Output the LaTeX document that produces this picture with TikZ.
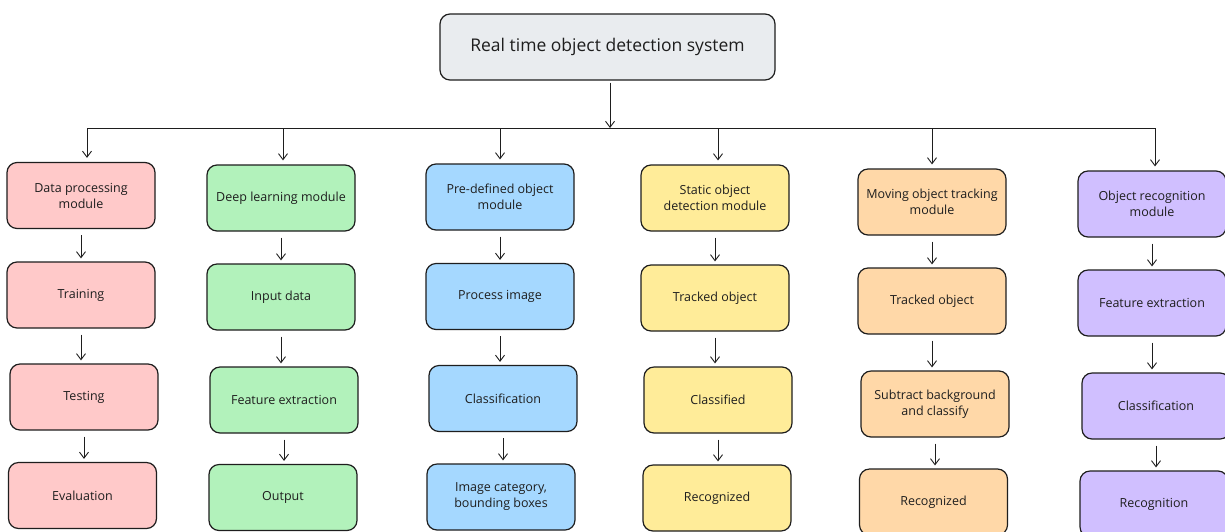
\documentclass[tikz,border=0pt]{standalone}
\usepackage{fontspec}
\setmainfont{Open Sans}
\usetikzlibrary{arrows.meta}
\definecolor{ink}{HTML}{1E1E1E}
\definecolor{rootfill}{HTML}{E9ECEF}
\definecolor{pinkfill}{HTML}{FFC9C9}
\definecolor{greenfill}{HTML}{B2F2BB}
\definecolor{bluefill}{HTML}{A5D8FF}
\definecolor{yellowfill}{HTML}{FFEC99}
\definecolor{orangefill}{HTML}{FFD8A8}
\definecolor{violetfill}{HTML}{D0BFFF}
\begin{document}
\begin{tikzpicture}[x=1pt,y=-1pt,
  box/.style={draw=ink, line width=1.2pt, rounded corners=10pt,
    minimum width=148pt, minimum height=66pt, align=center, text=ink,
    inner sep=2pt, font=\fontsize{12.5}{16}\selectfont},
  arr/.style={draw=ink, line width=0.9pt,
    -{Straight Barb[length=6pt,width=9pt]}, shorten >=3pt, shorten <=6pt},
  busarr/.style={arr, shorten <=0pt, shorten >=4pt},
  bus/.style={draw=ink, line width=0.9pt}
]
\useasboundingbox (0,0) rectangle (1225,531);
\clip (0,0) rectangle (1225,531);
\fill[white] (0,0) rectangle (1225,531);

% root
\node[box, fill=rootfill, minimum width=335pt, font=\fontsize{17.5}{20}\selectfont]
  (root) at (607.5,47) {Real time object detection system};

% column 1
\node[box, fill=pinkfill] (m11) at (81,195.5) {Data processing\\module};
\node[box, fill=pinkfill] (m12) at (81,295) {Training};
\node[box, fill=pinkfill] (m13) at (84,397) {Testing};
\node[box, fill=pinkfill] (m14) at (82.5,495.5) {Evaluation};
% column 2
\node[box, fill=greenfill] (m21) at (281,198) {Deep learning module};
\node[box, fill=greenfill] (m22) at (281,297) {Input data};
\node[box, fill=greenfill] (m23) at (284,400) {Feature extraction};
\node[box, fill=greenfill] (m24) at (283,497.5) {Output};
% column 3
\node[box, fill=bluefill] (m31) at (500,197) {Pre-defined object\\module};
\node[box, fill=bluefill] (m32) at (500,296.5) {Process image};
\node[box, fill=bluefill] (m33) at (503,398.5) {Classification};
\node[box, fill=bluefill] (m34) at (501,497) {Image category,\\bounding boxes};
% column 4
\node[box, fill=yellowfill] (m41) at (715,198) {Static object\\detection module};
\node[box, fill=yellowfill] (m42) at (715,298) {Tracked object};
\node[box, fill=yellowfill] (m43) at (718,400) {Classified};
\node[box, fill=yellowfill] (m44) at (717,498) {Recognized};
% column 5
\node[box, fill=orangefill] (m51) at (932,202) {Moving object tracking\\module};
\node[box, fill=orangefill] (m52) at (932,301) {Tracked object};
\node[box, fill=orangefill] (m53) at (935,404) {Subtract background\\and classify};
\node[box, fill=orangefill] (m54) at (933.5,502) {Recognized};
% column 6
\node[box, fill=violetfill] (m61) at (1152,204) {Object recognition\\module};
\node[box, fill=violetfill] (m62) at (1152,303) {Feature extraction};
\node[box, fill=violetfill] (m63) at (1156,406) {Classification};
\node[box, fill=violetfill] (m64) at (1154,504) {Recognition};

% distribution bus
\coordinate (trunk) at (610,128);
\coordinate (b1) at (87,128);
\coordinate (b2) at (283,128);
\coordinate (b3) at (500,128);
\coordinate (b4) at (718,128);
\coordinate (b5) at (932,128);
\coordinate (b6) at (1155,128);
\draw[arr, shorten <=2pt, shorten >=0pt] (trunk |- root.south) -- (trunk);
\draw[bus] (b1) -- (b6);
\foreach \i in {1,...,6} {
  \draw[busarr] (b\i) -- (b\i |- m\i1.north);
}

% column chains
\foreach \c in {1,...,6} {
  \draw[arr] (m\c1.south) -- (m\c1.south |- m\c2.north);
  \draw[arr] (m\c2.south) -- (m\c2.south |- m\c3.north);
  \draw[arr] (m\c3.south) -- (m\c3.south |- m\c4.north);
}
\end{tikzpicture}
\end{document}
